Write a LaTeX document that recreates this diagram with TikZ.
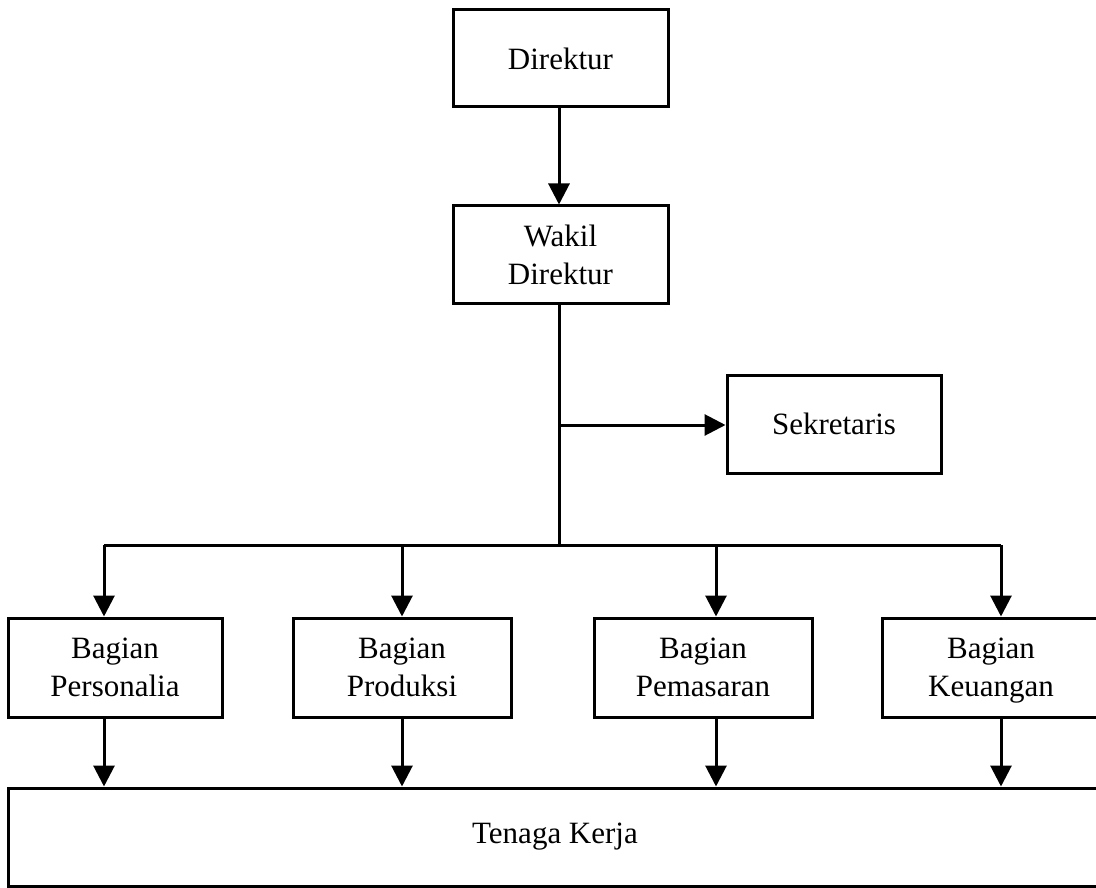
\documentclass[tikz,border=0pt]{standalone}
\usepackage{fontspec}
\setmainfont{Liberation Serif}
\usetikzlibrary{arrows.meta}
\begin{document}
\begin{tikzpicture}[x=1pt,y=-1pt,
  box/.style={draw, line width=3pt, align=center, inner sep=0pt,
    font=\fontsize{31}{38}\selectfont},
  conn/.style={line width=3pt},
  arr/.style={conn, -{Triangle[length=21pt,width=21pt]}}]
\useasboundingbox (0,0) rectangle (1096,888);
% top boxes
\node[box, minimum width=215pt, minimum height=97pt] (dir) at (560.5,58.5) {Direktur};
\node[box, minimum width=215pt, minimum height=97pt] (wakil) at (560.5,254.5) {Wakil\\Direktur};
\node[box, minimum width=214pt, minimum height=98pt] (sek) at (834,424) {Sekretaris};
% departments
\node[box, minimum width=214pt, minimum height=99pt] (pers) at (115,667.5) {Bagian\\Personalia};
\node[box, minimum width=218pt, minimum height=99pt] (prod) at (402,667.5) {Bagian\\Produksi};
\node[box, minimum width=218pt, minimum height=99pt] (pem) at (703,667.5) {Bagian\\Pemasaran};
\node[box, minimum width=218pt, minimum height=99pt] (keu) at (991,667.5) {Bagian\\\smash{Keuangan}};
% workforce
\node[box, minimum width=1094pt, minimum height=98pt] (tk) at (555,837) {Tenaga Kerja};
% bus coordinates
\coordinate (tee) at (559,545);
\coordinate (sekj) at (559,425);
\coordinate (b1) at (104,545);
\coordinate (b2) at (402,545);
\coordinate (b3) at (716,545);
\coordinate (b4) at (1001,545);
% connectors
\draw[arr] (dir.south -| tee) -- (wakil.north -| tee);
\draw[conn] (wakil.south -| tee) -- (tee);
\draw[arr] (sekj) -- (sek.west |- sekj);
\draw[conn] (b1) -- (b4);
\draw[arr] (b1) -- (b1 |- pers.north);
\draw[arr] (b2) -- (b2 |- prod.north);
\draw[arr] (b3) -- (b3 |- pem.north);
\draw[arr] (b4) -- (b4 |- keu.north);
\draw[arr] (b1 |- pers.south) -- (b1 |- tk.north);
\draw[arr] (b2 |- prod.south) -- (b2 |- tk.north);
\draw[arr] (b3 |- pem.south) -- (b3 |- tk.north);
\draw[arr] (b4 |- keu.south) -- (b4 |- tk.north);
\end{tikzpicture}
\end{document}
